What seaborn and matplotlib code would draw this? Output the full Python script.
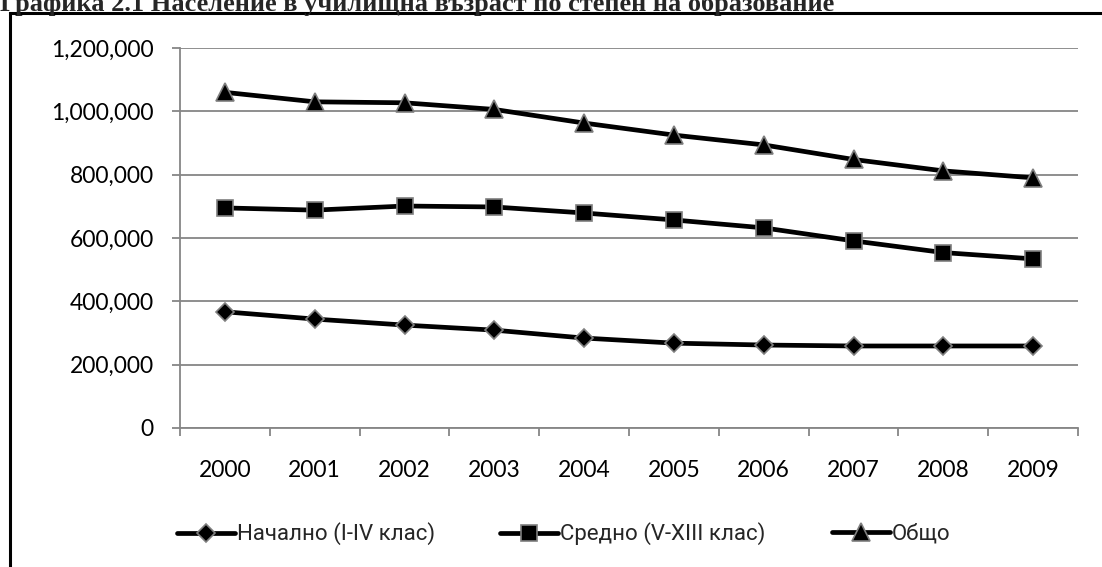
import pandas as pd
import matplotlib.pyplot as plt
import seaborn as sns
from matplotlib.patches import Rectangle
from matplotlib.ticker import FuncFormatter, MultipleLocator

# Data
years = [2000, 2001, 2002, 2003, 2004, 2005, 2006, 2007, 2008, 2009]
primary = [367000, 344000, 325000, 309000, 284000, 268000, 262000, 259000, 259000, 259000]
secondary = [695000, 688000, 701000, 698000, 679000, 657000, 632000, 591000, 554000, 534000]
total = [1060000, 1030000, 1027000, 1006000, 963000, 925000, 894000, 848000, 812000, 790000]
series_names = ["Начално (I-IV клас)", "Средно (V-XIII клас)", "Общо"]

df = pd.DataFrame({
    "year": years * 3,
    "value": primary + secondary + total,
    "series": [series_names[0]] * 10 + [series_names[1]] * 10 + [series_names[2]] * 10,
})

sns.set_theme(style="white")
plt.rcParams["font.family"] = ["Lato", "DejaVu Sans"]

W, H = 1102, 567
fig = plt.figure(figsize=(W / 100, H / 100), dpi=100)
ax = fig.add_axes([180 / W, 1 - 428 / H, (1078 - 180) / W, (428 - 48) / H])

grid_col = "#868686"
marker_map = {series_names[0]: "D", series_names[1]: "s", series_names[2]: "^"}
sizes = {series_names[0]: 9.5, series_names[1]: 12, series_names[2]: 12.5}

for name in series_names:
    sub = df[df["series"] == name]
    sns.lineplot(data=sub, x="year", y="value", ax=ax, color="black", lw=3.4,
                 marker=marker_map[name], markersize=sizes[name],
                 markerfacecolor="black", markeredgecolor="#7f7f7f",
                 markeredgewidth=1.2, label=name, legend=False, zorder=3)

ax.set_xlim(1999.5, 2009.5)
ax.set_ylim(0, 1200000)
ax.yaxis.set_major_locator(MultipleLocator(200000))
ax.yaxis.set_major_formatter(FuncFormatter(lambda v, p: f"{int(v):,}"))
ax.set_xticks(years)
ax.set_xticks([y - 0.5 for y in years] + [2009.5], minor=True)
ax.set_xlabel("")
ax.set_ylabel("")

ax.grid(axis="y", color=grid_col, lw=1.3)
ax.grid(axis="x", visible=False)
ax.set_axisbelow(True)
for side in ["top", "right"]:
    ax.spines[side].set_visible(False)
for side in ["left", "bottom"]:
    ax.spines[side].set_color(grid_col)
    ax.spines[side].set_linewidth(1.3)

ax.tick_params(axis="y", which="major", length=6, width=1.3, color=grid_col,
               direction="out", pad=13, labelsize=16.5, labelcolor="black", left=True)
ax.tick_params(axis="x", which="major", length=0, pad=23, labelsize=16.5, labelcolor="black")
ax.tick_params(axis="x", which="minor", length=6, width=1.3, color=grid_col,
               direction="out", bottom=True)

# legend entries sit at fixed spots, like the original
handles = ax.get_lines()[:3]
leg_x = [177, 500, 832]
for h, name, lx in zip(handles, series_names, leg_x):
    fig.legend([h], [name], loc="center left", bbox_to_anchor=(lx / W, 1 - 534 / H),
               frameon=False, borderpad=0, borderaxespad=0, handlelength=2.6,
               handletextpad=0.1, prop={"family": ["Roboto", "DejaVu Sans"], "size": 16})

# chart border and title
fig.patches.append(Rectangle((10 / W, -0.05), 1.2, 1.05 - 13 / H, transform=fig.transFigure,
                             fill=False, edgecolor="black", lw=2.2, zorder=0))
fig.text(0, 1 - 11 / H, "Графика 2.1 Население в училищна възраст по степен на образование",
         family=["Liberation Serif", "DejaVu Serif"], fontweight="bold", fontsize=19,
         va="baseline", ha="left")

fig.savefig("out.png", dpi=100)
